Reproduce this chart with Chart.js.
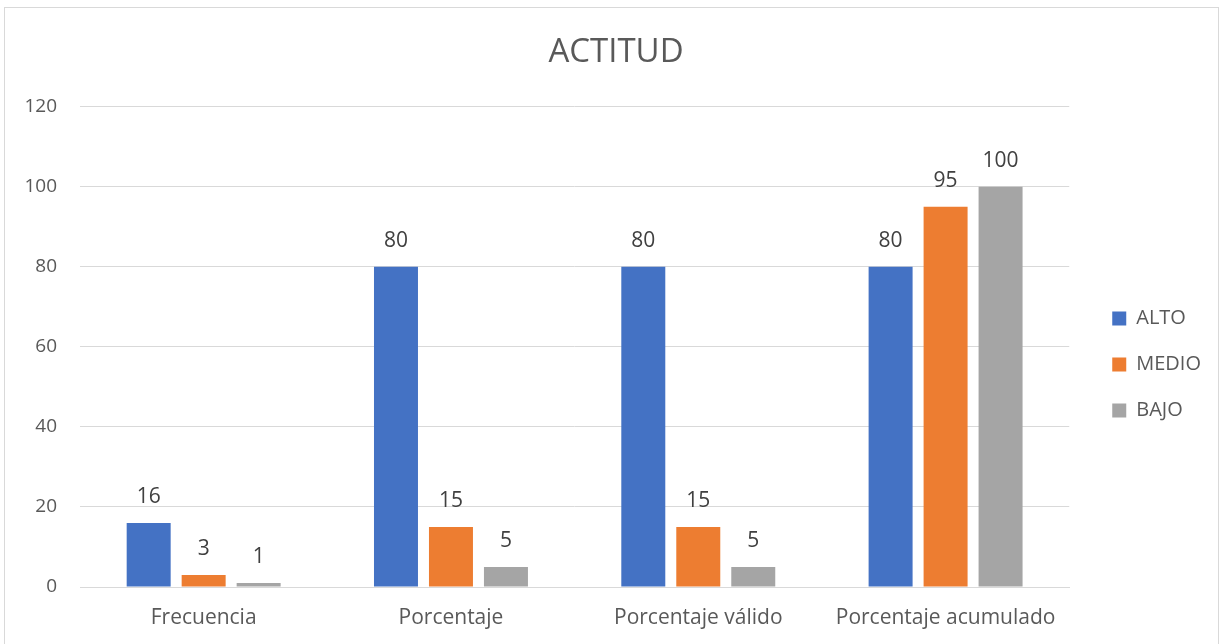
<!DOCTYPE html>
<html>
<head>
<meta charset="utf-8">
<script src="https://cdn.jsdelivr.net/npm/chart.js@4.4.1/dist/chart.umd.min.js"></script>
<style>
  html, body { margin: 0; padding: 0; background: #fff; }
  #wrap { position: relative; width: 1225px; height: 644px; }
</style>
</head>
<body>
<div id="wrap"><canvas id="actitudChart" width="1225" height="644"></canvas></div>
<script>
document.addEventListener("DOMContentLoaded", () => {

    // Datos
    const categorias = ['Frecuencia', 'Porcentaje', 'Porcentaje válido', 'Porcentaje acumulado'];
    const alto  = [16, 80, 80, 80];
    const medio = [3, 15, 15, 95];
    const bajo  = [1, 5, 5, 100];
    const yTicks = [0, 20, 40, 60, 80, 100, 120];

    const colors = {
        blue:   '#4472c4',
        orange: '#ed7d31',
        gray:   '#a5a5a5',
        text:   '#595959',
        label:  '#404040',
        grid:   '#d9d9d9',
    };
    const fontFamily = '"Open Sans", "Noto Sans", sans-serif';

    // Borde del gráfico + ajuste de título y leyenda
    const frame = {
        id: 'frame',
        afterLayout(chart) {
            // el título va centrado en todo el lienzo
            chart.titleBlock.left = 0;
            chart.titleBlock.right = 1232;
            // leyenda algo más abajo, como en el original
            chart.legend.top += 26;
            chart.legend.bottom += 26;
        },
        beforeDraw(chart) {
            const ctx = chart.ctx;
            ctx.save();
            ctx.fillStyle = '#fff';
            ctx.fillRect(0, 0, chart.width, chart.height);
            ctx.strokeStyle = colors.grid;
            ctx.lineWidth = 1;
            ctx.strokeRect(4.5, 7.5, 1214, 640);
            ctx.restore();
        }
    };

    // Etiquetas de datos sobre cada barra
    const valueLabels = {
        id: 'valueLabels',
        afterDatasetsDraw(chart) {
            const ctx = chart.ctx;
            ctx.save();
            ctx.font = '21px ' + fontFamily;
            ctx.fillStyle = colors.label;
            ctx.textAlign = 'center';
            ctx.textBaseline = 'middle';
            chart.data.datasets.forEach((ds, i) => {
                chart.getDatasetMeta(i).data.forEach((bar, j) => {
                    ctx.fillText(String(ds.data[j]), bar.x, bar.y - 26);
                });
            });
            ctx.restore();
        }
    };

    new Chart(document.getElementById('actitudChart'), {
        type: 'bar',
        data: {
            labels: categorias,
            datasets: [
                { label: 'ALTO',  data: alto,  backgroundColor: colors.blue },
                { label: 'MEDIO', data: medio, backgroundColor: colors.orange },
                { label: 'BAJO',  data: bajo,  backgroundColor: colors.gray },
            ]
        },
        options: {
            responsive: false,
            animation: false,
            categoryPercentage: 0.667,
            barPercentage: 0.8,
            layout: { padding: { top: 33, left: 0, right: 14, bottom: 0 } },
            plugins: {
                title: {
                    display: true,
                    text: 'ACTITUD',
                    color: colors.text,
                    font: { family: fontFamily, size: 33, weight: 'normal' },
                    padding: { top: 0, bottom: 34 }
                },
                legend: {
                    position: 'right',
                    labels: {
                        boxWidth: 14,
                        boxHeight: 14,
                        padding: 26,
                        color: colors.text,
                        font: { family: fontFamily, size: 20 }
                    }
                },
                tooltip: { enabled: false }
            },
            scales: {
                x: {
                    grid: { display: false, drawTicks: false },
                    border: { color: colors.grid },
                    ticks: {
                        color: colors.text, padding: 18, maxRotation: 0, minRotation: 0, autoSkip: false,
                        font: { family: fontFamily, size: 21 }
                    },
                    afterFit: s => { s.height = 57; }
                },
                y: {
                    min: 0,
                    max: 120,
                    afterBuildTicks: s => { s.ticks = yTicks.map(v => ({ value: v })); },
                    grid: { color: colors.grid, drawTicks: false },
                    border: { display: false },
                    ticks: { color: colors.text, padding: 23, font: { family: fontFamily, size: 19 } },
                    afterFit: s => { s.width = 80; }
                },
                // espacio entre el área y la leyenda
                gap: {
                    position: 'right',
                    type: 'linear',
                    grid: { display: false },
                    border: { display: false },
                    ticks: { display: false },
                    afterFit: s => { s.width = 17; }
                }
            }
        },
        plugins: [frame, valueLabels]
    });

});
</script>
</body>
</html>
